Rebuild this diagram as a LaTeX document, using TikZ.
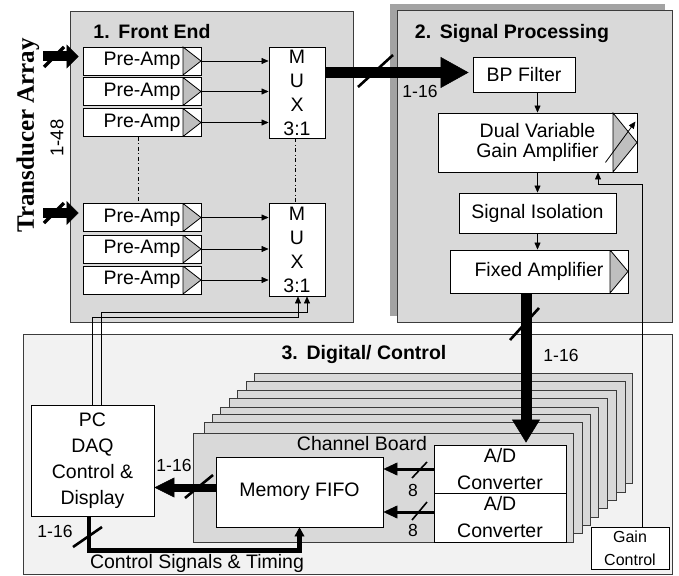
\documentclass[tikz,border=0pt]{standalone}
\usepackage{fontspec}
\setmainfont{Liberation Sans}
\newfontfamily\captionserif{Liberation Serif}
\usetikzlibrary{arrows.meta,calc}
\definecolor{panelgray}{HTML}{D9D9D9}
\definecolor{panellight}{HTML}{F2F2F2}
\definecolor{shadowgray}{HTML}{A3A3A3}
\definecolor{trigray}{HTML}{BFBFBF}
\definecolor{rimgray}{HTML}{3C3C3C}
\begin{document}
\begin{tikzpicture}[x=1pt,y=-1pt,
  every node/.style={font=\fontsize{19.5}{24}\selectfont, inner sep=0pt},
  title/.style={font=\bfseries\fontsize{19.5}{24}\selectfont},
  small/.style={font=\fontsize{17.5}{20}\selectfont},
  panel/.style={draw=rimgray, line width=0.8pt, fill=panelgray},
  box/.style={draw=black, line width=0.9pt, fill=white, align=center},
  amptri/.style={path picture={\fill[trigray,draw=black,line width=0.8pt]
      ([xshift=-#1]path picture bounding box.north east) --
      (path picture bounding box.east) --
      ([xshift=-#1]path picture bounding box.south east) -- cycle;}},
  preamp/.style={box, amptri=18pt, minimum width=118pt, minimum height=28pt},
  mux/.style={box, minimum width=56pt},
  board/.style={draw=rimgray, line width=0.9pt, fill=panelgray},
  thin/.style={line width=0.9pt, -{Triangle[length=7pt,width=6pt,line width=0.5pt]}},
  dashdot/.style={line width=0.8pt, dash pattern=on 4pt off 2.5pt on 1pt off 2.5pt},
  inbus/.style={line width=10pt, shorten >=4pt, -{Triangle[length=12pt,width=24pt,line width=0.5pt]}},
  bigbus/.style={line width=11pt, -{Triangle[length=28pt,width=31pt,line width=0.5pt]}},
  downbus/.style={line width=11pt, shorten >=2pt, -{Triangle[length=23pt,width=28pt,line width=0.5pt]}},
  pcbus/.style={line width=8pt, -{Triangle[length=20pt,width=20pt,line width=0.5pt]}},
  adbus/.style={line width=3pt, -{Triangle[length=14pt,width=13pt,line width=0.5pt]}},
  ctrlbus/.style={line width=4.5pt, line join=miter, -{Triangle[length=9pt,width=10pt,line width=0.5pt]}},
  slash/.style={line width=2.6pt}
]
\useasboundingbox (0,0) rectangle (679,575);

% ---------- panels ----------
\node[panel, fill=panellight, minimum width=649pt, minimum height=240pt] (dc) at (347.5,454) {};
\node[panel, minimum width=283pt, minimum height=311pt] (fe) at (211.5,166.5) {};
\fill[shadowgray] (390,4) rectangle (665,316);
\node[panel, minimum width=275pt, minimum height=312pt] (sp) at (534.5,166) {};

\node[title] (t1) at (152,32) {1.\hspace{0.45em}Front End};
\node[title] (t2) at (512,34) {2.\hspace{0.45em}Signal Processing};
\node[title] (t3) at (364,354) {3.\hspace{0.45em}Digital/ Control};

% ---------- front end ----------
\foreach \n/\y in {1/61, 2/91.5, 3/122.5, 4/217.5, 5/249, 6/280}
  \node[preamp] (pa\n) at (142,\y) {Pre-Amp};
\node[mux, minimum height=91pt] (mux1) at (297,92.5) {M\\U\\X\\3:1};
\node[mux, minimum height=93pt] (mux2) at (297,249.5) {M\\U\\X\\3:1};

\foreach \n in {1,2,3} \draw[thin] (pa\n.east) -- (pa\n.east -| mux1.west);
\foreach \n in {4,5,6} \draw[thin] (pa\n.east) -- (pa\n.east -| mux2.west);

\draw[dashdot] ($(pa3.south)+(-4,0)$) -- ($(pa4.north)+(-4,0)$);
\draw[dashdot] ($(mux1.south)+(-2,0)$) -- ($(mux2.north)+(-2,0)$);

% transducer inputs
\coordinate (tin1) at (43,56.5);
\coordinate (tin2) at (43,213);
\draw[inbus] (tin1) -- (tin1 -| pa1.west);
\draw[inbus] (tin2) -- (tin2 -| pa4.west);
\draw[slash, line width=3.2pt] (44,67) -- (64,47);
\draw[slash, line width=3.2pt] (44,223) -- (64,203);

\node[rotate=90, font=\captionserif\bfseries\fontsize{25}{30}\selectfont] (ta) at (28,135.5) {Transducer Array};
\node[rotate=90, font=\fontsize{18.5}{22}\selectfont] (n48) at (57,138) {1-48};

% ---------- signal processing ----------
\node[box, minimum width=102pt, minimum height=35pt] (bp) at (524,74.5) {BP Filter};
\node[box, amptri=24pt, minimum width=199pt, minimum height=59pt,
      font=\fontsize{19.5}{20}\selectfont] (dva) at (537.5,142.5) {Dual Variable\\Gain Amplifier};
\node[box, minimum width=157pt, minimum height=40pt] (siso) at (537.5,213) {Signal Isolation};
\node[box, amptri=18pt, minimum width=178pt, minimum height=43pt] (fixa) at (539,271.5) {Fixed Amplifier};

\draw[thin] (dva.north |- bp.south) -- (dva.north);
\draw[thin] (dva.south) -- (siso.north);
\draw[thin] (siso.south) -- (siso.south |- fixa.north);
\draw[thin, line width=0.8pt] ($(dva.south east)+(-32,-10)$) -- ($(dva.north east)+(-2,9)$);

% multiplexed bus into the filter
\coordinate (b1) at ($(bp.west)+(0,-2)$);
\draw[bigbus, shorten >=4pt] (b1 -| mux1.east) -- (b1);
\draw[slash] (358,87) -- (393,55);
\node[small] (l1) at (420,91) {1-16};

% ---------- digital / control ----------
\foreach \l/\t/\r/\b in {254/373/632/483, 246/381/625/492, 237/390/616/500,
    229/398/607/508, 220/407/598/517, 212/414/590/525, 204/422/582/533}
  \draw[board] (\l,\t) rectangle (\r,\b);
\node[board, minimum width=380pt, minimum height=109pt] (cb) at (383,487.5) {};
\node (cbl) at (362,444) {Channel Board};

\node[box, minimum width=167pt, minimum height=70pt] (fifo) at (299.5,492) {Memory FIFO};
\node[box, minimum width=132pt, minimum height=48pt, font=\fontsize{19.5}{27}\selectfont] (ad1) at (500,469) {A/D\\Converter};
\node[box, minimum width=132pt, minimum height=49pt, font=\fontsize{19.5}{27}\selectfont] (ad2) at (500,517.5) {A/D\\Converter};
\node[box, minimum width=123pt, minimum height=111pt, font=\fontsize{19.5}{26}\selectfont] (pc) at (92.5,460.5) {PC\\DAQ\\Control \&\\Display};
\node[box, minimum width=78pt, minimum height=42pt, font=\fontsize{16}{23}\selectfont] (gain) at (630,548) {Gain\\Control};

% amplified channels into the converters
\coordinate (b2) at ($(fixa.south)+(-13,0)$);
\draw[downbus] (b2) -- (b2 |- ad1.north);
\draw[slash] (510,340) -- (539,308);
\node[small] (l2) at (561,355) {1-16};

% converters into the FIFO
\coordinate (a2) at ($(ad2.west)+(0,-5.5)$);
\draw[adbus] (ad1.west) -- (ad1.west -| fifo.east);
\draw[adbus] (a2) -- (a2 -| fifo.east);
\draw[slash, line width=1.6pt] (412,478) -- (427,462);
\draw[slash, line width=1.6pt] (412,520) -- (427,502);
\node[small] (e1) at (413,490) {8};
\node[small] (e2) at (413,530) {8};

% FIFO read-out to the PC
\coordinate (f1) at ($(fifo.west)+(0,-4.5)$);
\draw[pcbus] (f1) -- (f1 -| pc.east);
\draw[slash] (185,498) -- (213,475);
\node[small] (l3) at (174,465) {1-16};

% control signals and timing
\coordinate (ctl) at ($(fifo.south)+(0,23)$);
\draw[ctrlbus] ($(pc.south)+(-3.5,0)$) |- (ctl) -- (fifo.south);
\draw[slash] (73,547) -- (102,527);
\node[small] (l4) at (55,531) {1-16};
\node (cst) at (197,563) {Control Signals \& Timing};

% gain control feedback
\coordinate (gfb) at (598,184);
\draw[thin] ($(gain.north)+(12,0)$) |- (gfb) -- (gfb |- dva.south);

% multiplexer select lines from the PC
\coordinate (m1) at (298,317);
\coordinate (m2) at (307,312);
\draw[thin] (pc.north) |- (m1) -- (m1 |- mux2.south);
\draw[thin] ($(pc.north)+(8.5,0)$) |- (m2) -- (m2 |- mux2.south);
\end{tikzpicture}
\end{document}
